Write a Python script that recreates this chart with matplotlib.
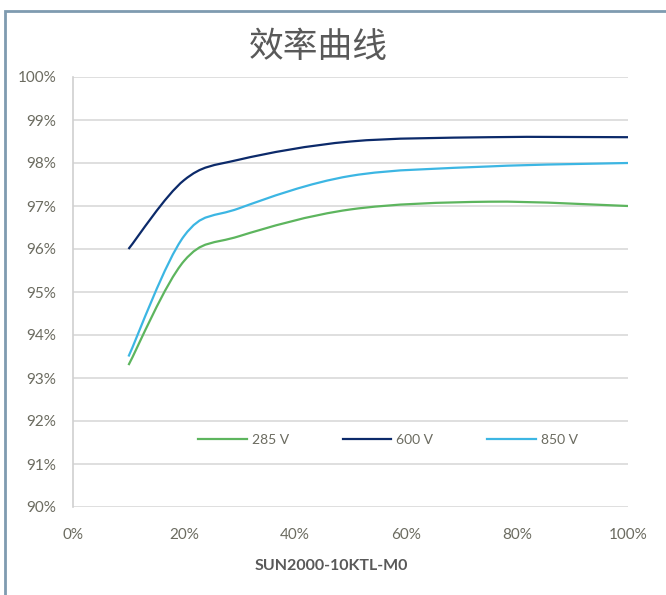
import numpy as np
import matplotlib
matplotlib.use("Agg")
import matplotlib.pyplot as plt
from matplotlib.path import Path
from matplotlib.patches import PathPatch, Rectangle
from matplotlib.lines import Line2D
from matplotlib.ticker import FuncFormatter

plt.rcParams['font.family'] = ['Lato', 'Noto Sans CJK SC', 'DejaVu Sans']

# data (load %, efficiency %)
load = [10, 20, 30, 50, 75, 100]
eff_285 = [93.3, 95.72, 96.3, 96.92, 97.1, 97.0]
eff_600 = [96.0, 97.6, 98.08, 98.5, 98.6, 98.6]
eff_850 = [93.5, 96.3, 96.95, 97.7, 97.92, 98.0]
series_names = ["285 V", "600 V", "850 V"]
series_colors = ["#5db55e", "#0c2a6a", "#3cb6e3"]

TICK_COLOR = "#6b6b60"


def smooth_path(xs, ys):
    # Excel style smoothed line: cubic bezier with catmull-rom control points
    pts = np.column_stack([xs, ys]).astype(float)
    n = len(pts)
    verts = [pts[0]]
    codes = [Path.MOVETO]
    for i in range(n - 1):
        p0 = pts[i - 1] if i > 0 else pts[i]
        p1 = pts[i]
        p2 = pts[i + 1]
        p3 = pts[i + 2] if i + 2 < n else pts[i + 1]
        c1 = p1 + (p2 - p0) / 6.0
        c2 = p2 - (p3 - p1) / 6.0
        verts += [c1, c2, p2]
        codes += [Path.CURVE4] * 3
    return Path(verts, codes)


fig = plt.figure(figsize=(6.66, 5.95), dpi=100)
ax = fig.add_axes([73 / 666, 1 - 507 / 595, 555 / 666, 430 / 595])

handles = []
for ys, name, col in zip([eff_285, eff_600, eff_850], series_names, series_colors):
    patch = PathPatch(smooth_path(load, ys), fill=False, edgecolor=col,
                      linewidth=1.6, zorder=3)
    ax.add_patch(patch)
    handles.append(Line2D([], [], color=col, linewidth=1.6, label=name))

ax.set_xlim(0, 100)
ax.set_ylim(90, 100)
ax.set_xticks(np.arange(0, 101, 20))
ax.set_yticks(np.arange(90, 101, 1))
ax.xaxis.set_major_formatter(FuncFormatter(lambda v, p: f"{v:.0f}%"))
ax.yaxis.set_major_formatter(FuncFormatter(lambda v, p: f"{v:.0f}%"))
ax.tick_params(axis='both', length=0, labelsize=11, colors=TICK_COLOR)
ax.tick_params(axis='y', pad=12)
ax.tick_params(axis='x', pad=15)
ax.grid(axis='y', color="#d9d9d9", linewidth=1.2)
ax.set_axisbelow(True)
for s in ['top', 'right', 'bottom']:
    ax.spines[s].set_visible(False)
ax.spines['left'].set_color("#d0d0d0")
ax.spines['left'].set_linewidth(1.2)

leg = ax.legend(handles=handles, ncol=3, frameon=False, loc='center',
                bbox_to_anchor=((388 - 73) / 555, (507 - 440) / 430),
                handlelength=3.5, columnspacing=3.9, handletextpad=0.35,
                fontsize=10)
for t in leg.get_texts():
    t.set_color(TICK_COLOR)

fig.text(318 / 666, 1 - 47 / 595, "效率曲线", ha='center', va='center',
         fontsize=25, color="#595959", family=['Noto Sans CJK SC', 'DejaVu Sans'])
fig.text(331 / 666, 1 - 566 / 595, "SUN2000-10KTL-M0", ha='center', va='center',
         fontsize=11.5, fontweight='bold', color="#595959")

# outer chart frame
fig.patches.append(Rectangle((5 / 666, -0.1), 1.2, 1 - 11 / 595 + 0.1,
                             transform=fig.transFigure, fill=False,
                             edgecolor="#7f9bb0", linewidth=2))

fig.savefig("out.png", dpi=100)
